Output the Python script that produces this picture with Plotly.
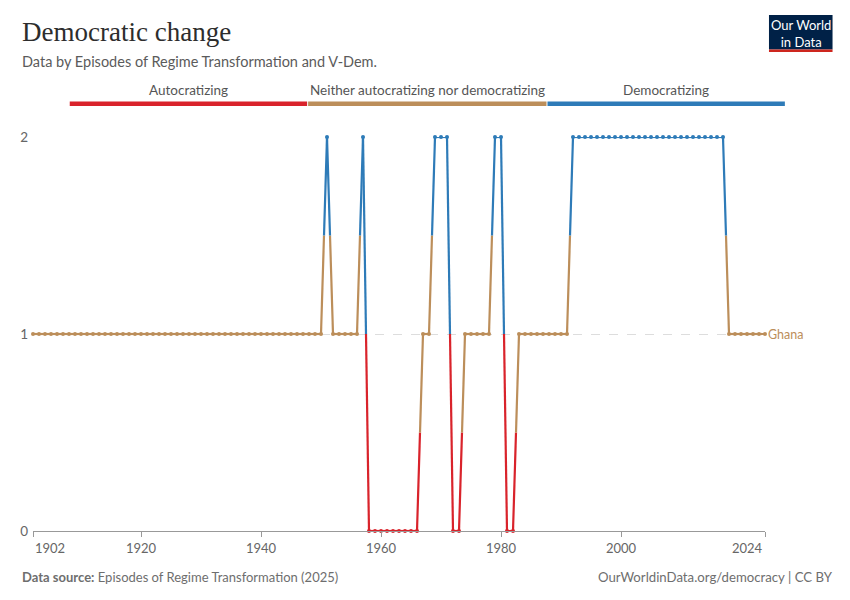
import plotly.graph_objects as go

# ---- data ----
years = list(range(1902, 2025))
# 0 = Autocratizing, 1 = Neither, 2 = Democratizing
values = (
    [1] * 49        # 1902-1950
    + [2]           # 1951
    + [1] * 5       # 1952-1956
    + [2]           # 1957
    + [0] * 9       # 1958-1966
    + [1] * 2       # 1967-1968
    + [2] * 3       # 1969-1971
    + [0] * 2       # 1972-1973
    + [1] * 5       # 1974-1978
    + [2] * 2       # 1979-1980
    + [0] * 2       # 1981-1982
    + [1] * 9       # 1983-1991
    + [2] * 26      # 1992-2017
    + [1] * 7       # 2018-2024
)
categories = ["Autocratizing", "Neither autocratizing nor democratizing", "Democratizing"]
cat_colors = ["#d9232b", "#bc8e5a", "#2e7bb8"]
country = "Ghana"
x_ticks = [1902, 1920, 1940, 1960, 1980, 2000, 2024]
y_ticks = [0, 1, 2]

# ---- layout geometry (page pixels; the page adds an 8px body offset) ----
W, H = 850, 600
OFF = 8
PL, PR, PT, PB = 28, 765, 137, 531   # desired plot box on the page
L = PL - OFF
R = W - (PR - OFF)
T = PT - OFF
B = H - (PB - OFF)
pw, ph = W - L - R, H - T - B


def px(xp):
    return (xp - OFF - L) / pw


def py(yp):
    return (H - B - (yp - OFF)) / ph


fig = go.Figure()

# build colored half-segments
seg_x = {c: [] for c in range(3)}
seg_y = {c: [] for c in range(3)}
for i in range(len(years) - 1):
    xa, ya = years[i], values[i]
    xb, yb = years[i + 1], values[i + 1]
    xm, ym = (xa + xb) / 2, (ya + yb) / 2
    seg_x[ya] += [xa, xm, None]
    seg_y[ya] += [ya, ym, None]
    seg_x[yb] += [xm, xb, None]
    seg_y[yb] += [ym, yb, None]

for c in range(3):
    fig.add_trace(go.Scatter(
        x=seg_x[c], y=seg_y[c], mode="lines",
        line=dict(color=cat_colors[c], width=2.2),
        hoverinfo="skip", showlegend=False, cliponaxis=False,
    ))

fig.add_trace(go.Scatter(
    x=years, y=values, mode="markers",
    marker=dict(size=4, color=[cat_colors[v] for v in values]),
    showlegend=False, cliponaxis=False, name=country,
))

annotations = []
# x tick labels
for i, t in enumerate(x_ticks):
    anchor = "left" if i == 0 else ("right" if i == len(x_ticks) - 1 else "center")
    annotations.append(dict(
        x=t, y=py(548), xref="x", yref="paper", text=str(t), showarrow=False,
        xanchor=anchor, yanchor="middle",
        font=dict(family="Lato", size=13, color="#666666"),
    ))

# country label
annotations.append(dict(
    x=years[-1], y=values[-1], xref="x", yref="y", text=country, showarrow=False,
    xanchor="left", yanchor="middle", xshift=1,
    font=dict(family="Lato", size=12.5, color=cat_colors[values[-1]]),
))

# title / subtitle
annotations.append(dict(
    x=px(14.5), y=py(32), xref="paper", yref="paper", text="Democratic change",
    showarrow=False, xanchor="left", yanchor="middle",
    font=dict(family="Liberation Serif", size=27, color="#2d2d2d"),
))
annotations.append(dict(
    x=px(14.5), y=py(61), xref="paper", yref="paper",
    text="Data by Episodes of Regime Transformation and V-Dem.",
    showarrow=False, xanchor="left", yanchor="middle",
    font=dict(family="Lato", size=14.5, color="#5b5b5b"),
))

# category legend
bar_edges = [(65, 304), (305, 545), (546, 785)]
shapes = []
for c, (x0, x1) in enumerate(bar_edges):
    shapes.append(dict(
        type="rect", xref="paper", yref="paper",
        x0=px(x0), x1=px(x1), y0=py(106), y1=py(101.5),
        fillcolor=cat_colors[c], line=dict(width=0),
    ))
    annotations.append(dict(
        x=px((x0 + x1) / 2), y=py(90), xref="paper", yref="paper",
        text=categories[c], showarrow=False, xanchor="center", yanchor="middle",
        font=dict(family="Lato", size=13.5, color="#555555"),
    ))

# logo
shapes.append(dict(type="rect", xref="paper", yref="paper",
                   x0=px(769), x1=px(833), y0=py(49.5), y1=py(15),
                   fillcolor="#002147", line=dict(width=0)))
shapes.append(dict(type="rect", xref="paper", yref="paper",
                   x0=px(769), x1=px(833), y0=py(52), y1=py(49.5),
                   fillcolor="#ce261e", line=dict(width=0)))
annotations.append(dict(
    x=px(801), y=py(33), xref="paper", yref="paper",
    text="Our World<br>in Data", showarrow=False, xanchor="center", yanchor="middle",
    font=dict(family="Lato", size=13, color="white"),
))

# footer
annotations.append(dict(
    x=px(14.5), y=py(577), xref="paper", yref="paper",
    text="<b>Data source:</b> Episodes of Regime Transformation (2025)",
    showarrow=False, xanchor="left", yanchor="middle",
    font=dict(family="Lato", size=13, color="#6e6e6e"),
))
annotations.append(dict(
    x=px(835), y=py(577), xref="paper", yref="paper",
    text="OurWorldinData.org/democracy | CC BY",
    showarrow=False, xanchor="right", yanchor="middle",
    font=dict(family="Lato", size=13.2, color="#6e6e6e"),
))

fig.update_layout(
    width=W, height=H,
    margin=dict(l=L, r=R, t=T, b=B),
    paper_bgcolor="white", plot_bgcolor="white",
    font=dict(family="Lato"),
    xaxis=dict(
        range=[years[0], years[-1]], tickvals=x_ticks, showticklabels=False,
        showgrid=False, zeroline=False, showline=True, linecolor="#999999",
        linewidth=1, ticks="outside", ticklen=5, tickcolor="#999999",
        fixedrange=True,
    ),
    yaxis=dict(
        range=[0, 2], tickvals=y_ticks, showgrid=True, gridcolor="#dddddd",
        griddash="dash", zeroline=False, showline=False, ticks="",
        tickfont=dict(family="Lato", size=13.5, color="#666666"),
        ticklabelstandoff=4, fixedrange=True,
    ),
    annotations=annotations, shapes=shapes,
    hovermode=False,
)

fig.write_html("out.html")
